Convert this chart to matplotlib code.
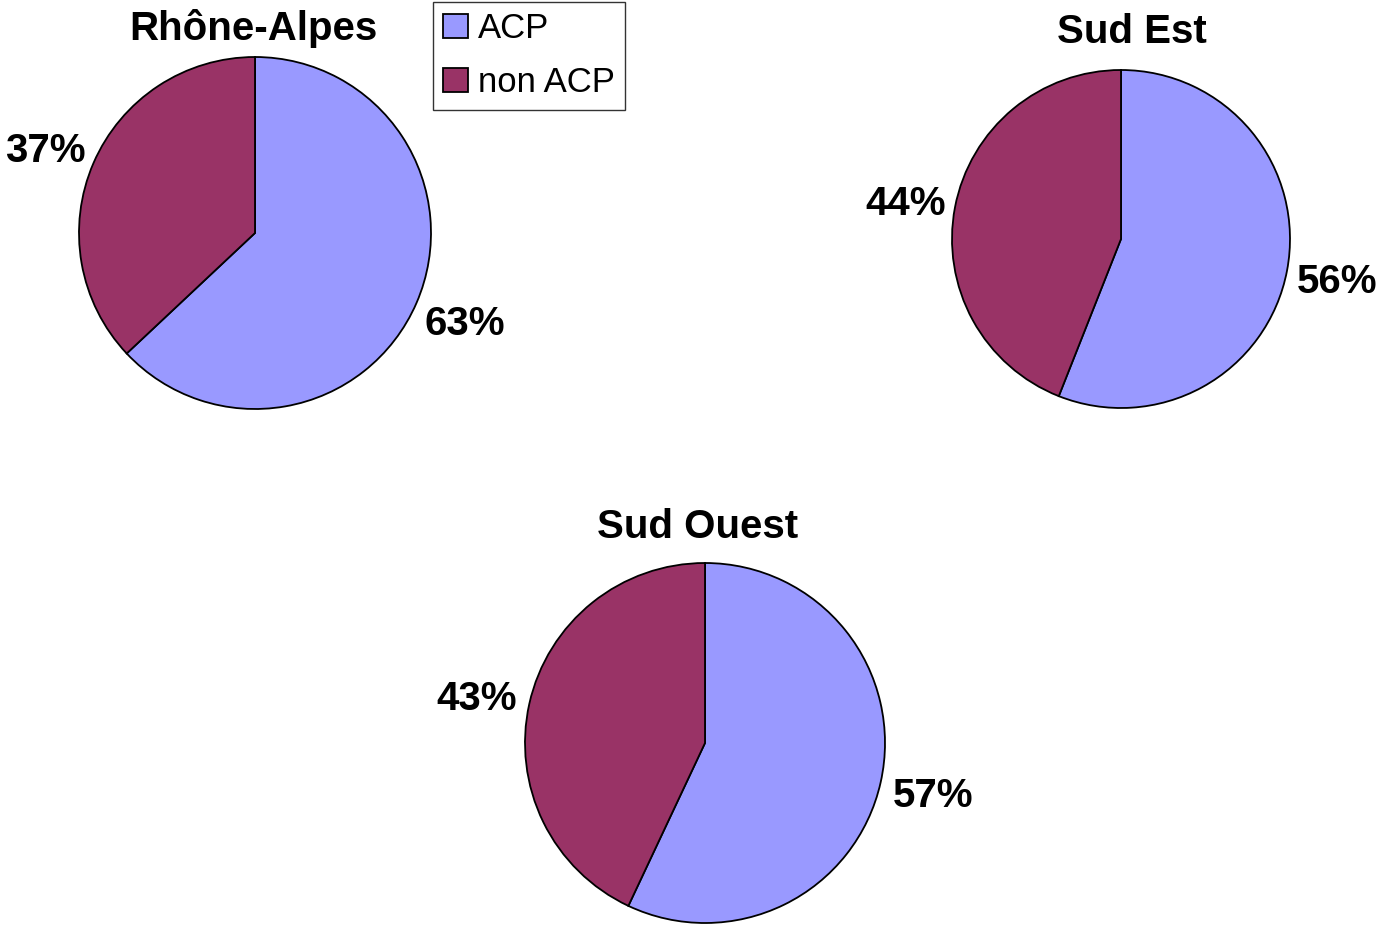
import matplotlib
matplotlib.use('Agg')
import matplotlib.pyplot as plt
from matplotlib.patches import Patch

plt.rcParams['font.family'] = ['Liberation Sans', 'DejaVu Sans']

categories = ['ACP', 'non ACP']
regions = ['Rhône-Alpes', 'Sud Est', 'Sud Ouest']
values = {
    'Rhône-Alpes': [63, 37],
    'Sud Est': [56, 44],
    'Sud Ouest': [57, 43],
}
colors = ['#9999FF', '#993366']

W, H = 1382, 932
fig = plt.figure(figsize=(W / 100, H / 100), dpi=100)

# pie centre (px), radius (px), title y (px)
layout = {
    'Rhône-Alpes': (255, 233, 176, 28),
    'Sud Est': (1121, 239, 169, 32),
    'Sud Ouest': (705, 743, 180, 527),
}
title_x = {'Rhône-Alpes': 253, 'Sud Est': 1132, 'Sud Ouest': 698}

for name in regions:
    cx, cy, r, ty = layout[name]
    ax = fig.add_axes([(cx - r) / W, 1 - (cy + r) / H, 2 * r / W, 2 * r / H])
    wedges, texts, autotexts = ax.pie(
        values[name], colors=colors, startangle=90, counterclock=False,
        radius=1, autopct='%1.0f%%', pctdistance=1.3,
        wedgeprops=dict(edgecolor='black', linewidth=1.3),
        textprops=dict(fontsize=29, fontweight='bold'))
    for t in autotexts:
        x, y = t.get_position()
        t.set_position((x, y * 0.95 - 0.025))
    ax.set_xlim(-1, 1)
    ax.set_ylim(-1, 1)
    ax.set_aspect('equal')
    ax.axis('off')
    fig.text(title_x[name] / W, 1 - ty / H, name, ha='center', va='center',
             fontsize=29, fontweight='bold')

handles = [Patch(facecolor=c, edgecolor='black', linewidth=1.3) for c in colors]
leg = fig.legend(handles, categories, loc='upper left',
                 bbox_to_anchor=(433 / W, 1 - 2 / H), fontsize=25,
                 frameon=True, fancybox=False, borderaxespad=0,
                 handlelength=0.7, handleheight=0.7, handletextpad=0.3,
                 labelspacing=0.6, borderpad=0.3)
leg.get_frame().set_edgecolor('black')
leg.get_frame().set_linewidth(1.0)

fig.savefig('out.png', dpi=100)
